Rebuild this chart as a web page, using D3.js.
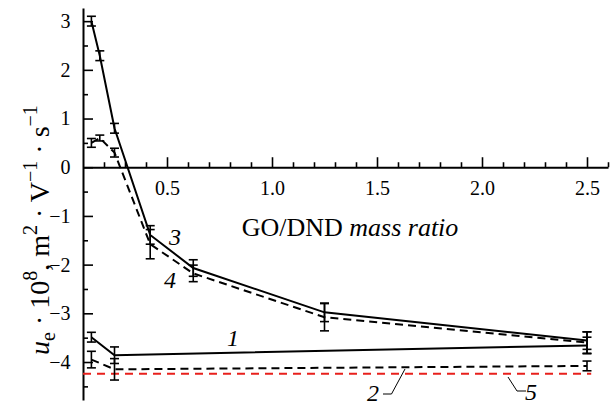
<!DOCTYPE html>
<html>
<head>
<meta charset="utf-8">
<script src="https://cdn.jsdelivr.net/npm/d3@7"></script>
<style>
  html, body { margin: 0; padding: 0; background: #fff; }
  svg { display: block; }
  svg text { font-family: "Liberation Serif", "Tinos", "Times New Roman", Times, "DejaVu Serif", "Noto Serif", serif; fill: #000; }
</style>
</head>
<body>
<svg id="chart" width="610" height="405"></svg>
<script>
// ---- data ----
const xs3 = [0.14, 0.18, 0.25, 0.42, 0.625, 1.25, 2.5];
const y3  = [3.0, 2.29, 0.8, -1.39, -2.07, -2.98, -3.56];
const e3  = [0.1, 0.1, 0.1, 0.19, 0.17, 0.19, 0.18];

const xs4 = [0.14, 0.18, 0.25, 0.42, 0.625, 1.25, 2.5];
const y4  = [0.5, 0.6, 0.3, -1.58, -2.18, -3.08, -3.6];
const e4  = [0.09, 0.06, 0.09, 0.3, 0.17, 0.28, 0.22];

const xs1 = [0.14, 0.25, 2.5];
const y1  = [-3.49, -3.86, -3.66];
const e1  = [0.1, 0.17, 0.17];

const xs2 = [0.14, 0.25, 2.5];
const y2  = [-3.95, -4.15, -4.08];
const e2  = [0.17, 0.22, 0.1];

const xs5 = [0.1, 2.52];
const y5  = [-4.24, -4.24];

const xTicks = [0.5, 1.0, 1.5, 2.0, 2.5];
const xMinorTicks = [0.2, 0.3, 0.4, 0.6, 0.7, 0.8, 0.9, 1.1, 1.2, 1.3, 1.4, 1.6, 1.7, 1.8, 1.9, 2.1, 2.2, 2.3, 2.4, 2.6];
const yTicks = [-4, -3, -2, -1, 0, 1, 2, 3];
const yMinorTicks = [-4.5, -3.5, -2.5, -1.5, -0.5, 0.5, 1.5, 2.5];

const curveLabels = ["3", "4", "1", "2", "5"];

// ---- chart ----
const FONT = '"Liberation Serif", "Tinos", "Times New Roman", Times, "DejaVu Serif", serif';
const svg = d3.select("#chart");
const x = d3.scaleLinear().domain([0.1, 2.6]).range([83, 608]);
const y = d3.scaleLinear().domain([-4.78, 3.27]).range([400, 8]);

function styleAxis(g) {
  g.attr("font-family", FONT).attr("font-size", 20);
  g.selectAll("path.domain").attr("stroke", "#000").attr("stroke-width", 2);
  g.selectAll(".tick line").attr("stroke", "#000").attr("stroke-width", 1.6);
  g.selectAll(".tick text").attr("font-size", 20).attr("fill", "#000");
}

// Y axis
const gy = svg.append("g").attr("transform", `translate(${x(0.1)},0)`);
gy.call(d3.axisLeft(y).tickValues(yTicks).tickSizeInner(-10).tickSizeOuter(0).tickPadding(12.5)
  .tickFormat(d3.format("d")));
styleAxis(gy);
const gym = svg.append("g").attr("transform", `translate(${x(0.1)},0)`);
gym.call(d3.axisLeft(y).tickValues(yMinorTicks).tickSizeInner(-5).tickSizeOuter(0).tickFormat(""));
gym.select("path.domain").remove();
styleAxis(gym);

// X axis at y = 0
const gx = svg.append("g").attr("transform", `translate(0,${y(0)})`);
gx.call(d3.axisBottom(x).tickValues(xTicks).tickSizeInner(-10).tickSizeOuter(0).tickPadding(14)
  .tickFormat(d3.format(".1f")));
styleAxis(gx);
const gxm = svg.append("g").attr("transform", `translate(0,${y(0)})`);
gxm.call(d3.axisBottom(x).tickValues(xMinorTicks).tickSizeInner(-5).tickSizeOuter(0).tickFormat(""));
gxm.select("path.domain").remove();
styleAxis(gxm);

// Axis titles
const xt = svg.append("text").attr("x", 350).attr("y", 236).attr("text-anchor", "middle")
  .attr("font-size", 26);
xt.append("tspan").text("GO/DND ");
xt.append("tspan").attr("font-style", "italic").text("mass ratio");

const yt = svg.append("text").attr("transform", "translate(49,355) rotate(-90)")
  .attr("text-anchor", "start").attr("font-size", 28);
yt.append("tspan").attr("font-style", "italic").text("u");
yt.append("tspan").attr("font-size", 20).attr("dy", 6).text("e");
yt.append("tspan").attr("dy", -6).text(" · 10");
yt.append("tspan").attr("font-size", 20).attr("dy", -12).text("8");
yt.append("tspan").attr("dy", 12).text(", m");
yt.append("tspan").attr("font-size", 20).attr("dy", -12).text("2");
yt.append("tspan").attr("dy", 12).text(" · V");
yt.append("tspan").attr("font-size", 20).attr("dy", -12).text("\u22121");
yt.append("tspan").attr("dy", 12).text(" · s");
yt.append("tspan").attr("font-size", 20).attr("dy", -12).text("\u22121");

// Lines
const line = d3.line().x(d => x(d[0])).y(d => y(d[1]));
function drawSeries(xs, ys, es, opts) {
  const pts = xs.map((v, i) => [v, ys[i]]);
  svg.append("path").datum(pts).attr("d", line)
    .attr("fill", "none").attr("stroke", opts.color || "#000")
    .attr("stroke-width", opts.width || 2)
    .attr("stroke-dasharray", opts.dash || null);
  if (es) {
    const g = svg.append("g").attr("stroke", "#000").attr("stroke-width", 1.6);
    pts.forEach((p, i) => {
      const cx = x(p[0]), t = y(p[1] + es[i]), b = y(p[1] - es[i]);
      g.append("line").attr("x1", cx).attr("x2", cx).attr("y1", t).attr("y2", b);
      g.append("line").attr("x1", cx - 4.5).attr("x2", cx + 4.5).attr("y1", t).attr("y2", t);
      g.append("line").attr("x1", cx - 4.5).attr("x2", cx + 4.5).attr("y1", b).attr("y2", b);
    });
  }
}
drawSeries(xs5, y5, null, { color: "#e8201c", dash: "8,6", width: 2 });
drawSeries(xs2, y2, e2, { dash: "8,5", width: 2 });
drawSeries(xs1, y1, e1, { width: 2 });
drawSeries(xs4, y4, e4, { dash: "8,5", width: 2 });
drawSeries(xs3, y3, e3, { width: 2 });

// Curve labels
const labelPos = [[175, 245], [170, 288], [233, 346], [373, 401], [531, 400]];
curveLabels.forEach((t, i) => {
  svg.append("text").attr("x", labelPos[i][0]).attr("y", labelPos[i][1])
    .attr("text-anchor", "middle").attr("font-style", "italic").attr("font-size", 24).text(t);
});
// Leader lines
svg.append("path").attr("d", "M383,394 L391.5,394 L405,369").attr("fill", "none").attr("stroke", "#000").attr("stroke-width", 1);
svg.append("path").attr("d", "M526,391 L517,391 L508,377").attr("fill", "none").attr("stroke", "#000").attr("stroke-width", 1);
</script>
</body>
</html>
